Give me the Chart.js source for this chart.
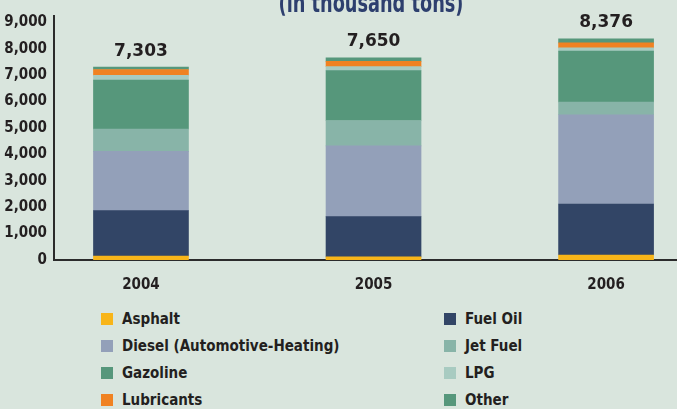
<!DOCTYPE html>
<html>
<head>
<meta charset="utf-8">
<script src="https://cdn.jsdelivr.net/npm/chart.js@4.4.1/dist/chart.umd.min.js"></script>
<style>
  html, body { margin: 0; padding: 0; background: #d9e5dd; }
  #wrap { position: relative; width: 677px; height: 409px; overflow: hidden; background: #d9e5dd; }
  #chart-box { position: absolute; left: 0; top: 0; width: 677px; height: 300px; }
  #legend {
    position: absolute; left: 101px; top: 305px;
    display: grid; grid-template-columns: 343px 220px; grid-auto-rows: 27px;
    font: bold 15px 'DejaVu Sans Condensed', 'DejaVu Sans', sans-serif;
    color: #231f20;
  }
  .lg-item { display: flex; align-items: center; white-space: nowrap; }
  .lg-sw { width: 12px; height: 12px; margin-right: 9px; flex: none; }
</style>
</head>
<body>
<div id="wrap">
  <div id="chart-box"><canvas id="oil-chart"></canvas></div>
  <div id="legend"></div>
</div>
<script>
// ── petroleum products consumption, thousand tons ──
const years      = [2004, 2005, 2006];
const totals     = [7303, 7650, 8376];
const asphalt    = [150, 120, 190];
const fuelOil    = [1720, 1520, 1930];
const diesel     = [2240, 2680, 3380];
const jetFuel    = [850, 960, 480];
const gazoline   = [1850, 1890, 1930];
const lpg        = [180, 150, 120];
const lubricants = [220, 200, 190];
const other      = [93, 130, 156];
const yTicks     = [0, 1000, 2000, 3000, 4000, 5000, 6000, 7000, 8000, 9000];

const NARROW = "'DejaVu Sans Condensed', 'DejaVu Sans', sans-serif";
const INK = '#231f20';

const series = [
  { label: 'Asphalt', values: asphalt, color: '#f8b519' },
  { label: 'Fuel Oil', values: fuelOil, color: '#324566' },
  { label: 'Diesel (Automotive-Heating)', values: diesel, color: '#93a0b9' },
  { label: 'Jet Fuel', values: jetFuel, color: '#88b4a8' },
  { label: 'Gazoline', values: gazoline, color: '#56977b' },
  { label: 'LPG', values: lpg, color: '#a8cbc1' },
  { label: 'Lubricants', values: lubricants, color: '#f08222' },
  { label: 'Other', values: other, color: '#56977b' },
];

// title sits mostly above the canvas, only its lower half shows
const titlePlugin = {
  id: 'clippedTitle',
  afterDraw(chart) {
    const ctx = chart.ctx;
    ctx.save();
    ctx.translate(371, 12);
    ctx.scale(0.73, 1);
    ctx.font = `bold 27px ${NARROW}`;
    ctx.fillStyle = '#2d3f6e';
    ctx.textAlign = 'center';
    ctx.textBaseline = 'alphabetic';
    ctx.fillText('(in thousand tons)', 0, 0);
    ctx.restore();
  }
};

const totalsPlugin = {
  id: 'totals',
  afterDatasetsDraw(chart) {
    const ctx = chart.ctx;
    const top = chart.getDatasetMeta(chart.data.datasets.length - 1);
    ctx.save();
    ctx.font = "bold 17px 'DejaVu Sans', sans-serif";
    ctx.fillStyle = INK;
    ctx.textAlign = 'center';
    ctx.textBaseline = 'middle';
    top.data.forEach((bar, i) => {
      ctx.fillText(totals[i].toLocaleString('en-US'), bar.x, bar.y - 16);
    });
    ctx.restore();
  }
};

const chart = new Chart(document.getElementById('oil-chart').getContext('2d'), {
  type: 'bar',
  data: {
    datasets: series.map(s => ({
      label: s.label,
      data: years.map((y, i) => ({ x: y, y: s.values[i] })),
      backgroundColor: s.color,
      borderWidth: 0,
      barThickness: 95,
    })),
  },
  options: {
    responsive: true,
    maintainAspectRatio: false,
    animation: false,
    layout: { padding: { top: 13, left: 0, right: 0, bottom: 0 } },
    plugins: { legend: { display: false }, tooltip: { enabled: false } },
    scales: {
      x: {
        type: 'linear',
        stacked: true,
        offset: false,
        min: 2003.626,
        max: 2006.305,
        grid: { display: false, drawTicks: false, offset: false },
        border: { display: true, color: '#2b2b2b', width: 2 },
        afterBuildTicks: s => { s.ticks = years.map(v => ({ value: v })); },
        afterFit: s => { s.height = 40; },
        ticks: {
          padding: 16,
          color: INK,
          font: { family: NARROW, size: 15, weight: 'bold' },
          callback: v => String(v),
        },
      },
      y: {
        stacked: true,
        min: 0,
        max: 9237,
        grid: { display: false, drawTicks: false },
        border: { display: true, color: '#2b2b2b', width: 2 },
        afterBuildTicks: s => { s.ticks = yTicks.map(v => ({ value: v })); },
        afterFit: s => { s.width = 54; },
        ticks: {
          padding: 7,
          color: INK,
          font: { family: NARROW, size: 15, weight: 'bold' },
          callback: v => v.toLocaleString('en-US'),
        },
      },
    },
  },
  plugins: [titlePlugin, totalsPlugin],
});

// legend laid out in two columns, built from the chart's own datasets
const legendEl = document.getElementById('legend');
legendEl.innerHTML = chart.data.datasets.map(d => `
  <div class="lg-item"><span class="lg-sw" style="background:${d.backgroundColor}"></span>${d.label}</div>`).join('');
</script>
</body>
</html>
